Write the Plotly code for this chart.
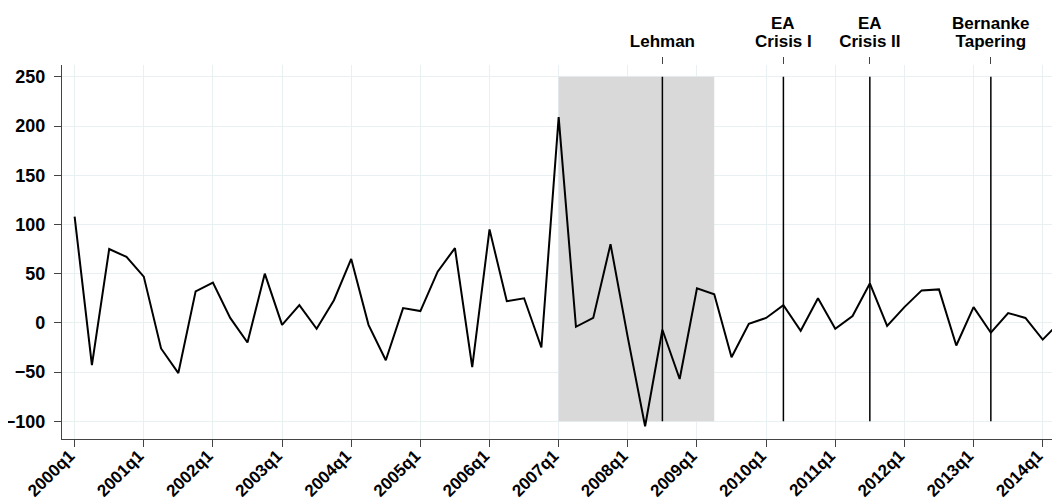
import plotly.graph_objects as go

# quarterly series, 2000q1 .. 2014q2 (index 0 = 2000q1)
valores = [108, -43, 75, 67, 47, -26, -51, 32, 41, 5, -20, 50, -2, 18, -6, 23,
           65, -2, -38, 15, 12, 52, 76, -45, 95, 22, 25, -25, 209, -4, 5, 80,
           -15, -105, -7, -57, 35, 29, -35, -1, 5, 18, -8, 25, -6, 7, 40, -3,
           16, 33, 34, -23, 16, -10, 10, 5, -17, 1]
trimestres = list(range(len(valores)))

ticks_x = [0, 4, 8, 12, 16, 20, 24, 28, 32, 36, 40, 44, 48, 52, 56]
rotulos_x = ["2000q1", "2001q1", "2002q1", "2003q1", "2004q1", "2005q1", "2006q1",
             "2007q1", "2008q1", "2009q1", "2010q1", "2011q1", "2012q1", "2013q1",
             "2014q1"]
ticks_y = [-100, -50, 0, 50, 100, 150, 200, 250]

# eventos (2008q3, 2010q2, 2011q3, 2013q2)
eventos = [34, 41, 46, 53]
linha1_eventos = ["", "EA", "EA", "Bernanke"]
linha2_eventos = ["Lehman", "Crisis I", "Crisis II", "Tapering"]

# crise financeira: 2007q1 .. 2009q2
crise = [28, 37]
faixa_y = [-100, 250]

fonte = dict(family="Liberation Sans, Arial, sans-serif", size=18, color="black",
             weight="bold")

fig = go.Figure()

fig.add_shape(type="rect", xref="x", yref="y", x0=crise[0], x1=crise[1],
              y0=faixa_y[0], y1=faixa_y[1], fillcolor="#d9d9d9",
              line=dict(width=0), layer="between")

for e in eventos:
    fig.add_shape(type="line", xref="x", yref="y", x0=e, x1=e,
                  y0=faixa_y[0], y1=faixa_y[1],
                  line=dict(color="black", width=1.5), layer="between")

fig.add_trace(go.Scatter(x=trimestres, y=valores, mode="lines",
                         line=dict(color="black", width=2), showlegend=False,
                         hoverinfo="skip"))
# invisible trace to activate the top axis
fig.add_trace(go.Scatter(x=eventos, y=[0] * len(eventos), xaxis="x2", mode="markers",
                         marker=dict(opacity=0), showlegend=False, hoverinfo="skip"))

# first line of the two-line event labels (tighter spacing than <br>)
for e, t in zip(eventos, linha1_eventos):
    if t:
        fig.add_annotation(x=e, xref="x2", y=1, yref="paper", text=t,
                           showarrow=False, yanchor="middle", yshift=42,
                           font=dict(size=17))

faixa_x = [-0.73, 57]

# the page body has an 8px margin, so the figure is shrunk by that much
fig.update_layout(
    width=1052, height=491,
    margin=dict(l=54, r=0, t=57, b=60),
    plot_bgcolor="white", paper_bgcolor="white",
    font=fonte,
    xaxis=dict(range=faixa_x, tickvals=ticks_x, ticktext=rotulos_x, tickangle=-45,
               showgrid=True, gridcolor="#e8f0f2", gridwidth=1,
               showline=True, linecolor="#444", linewidth=1.2,
               ticks="outside", ticklen=7, tickcolor="#444", zeroline=False,
               tickfont=dict(size=17), ticklabelstandoff=-8, ticklabelshift=-5,
               automargin=False),
    xaxis2=dict(range=faixa_x, overlaying="x", side="top", tickvals=eventos,
                ticktext=linha2_eventos, ticks="outside", ticklen=7,
                tickcolor="#444", showgrid=False, showline=False, zeroline=False,
                tickfont=dict(size=17), ticklabelstandoff=3, automargin=False),
    yaxis=dict(range=[-118, 262], tickvals=ticks_y, showgrid=True,
               gridcolor="#e8f0f2", gridwidth=1, showline=True, linecolor="#444",
               linewidth=1.2, ticks="outside", ticklen=7, tickcolor="#444",
               zeroline=False, tickfont=dict(size=18), ticklabelstandoff=5,
               automargin=False),
)

fig.write_html("out.html")
